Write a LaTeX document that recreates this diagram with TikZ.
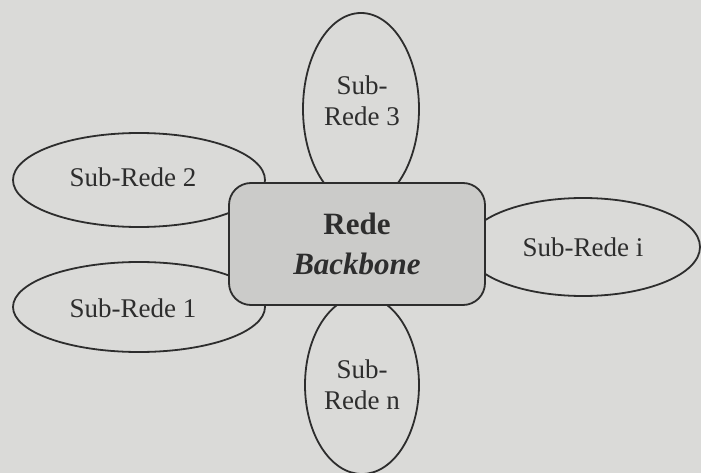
\documentclass[tikz,border=0pt]{standalone}
\usepackage{fontspec}
\setmainfont{Liberation Serif}
\usetikzlibrary{shapes.geometric}
\definecolor{bg}{RGB}{218,218,216}
\definecolor{boxfill}{RGB}{203,203,201}
\definecolor{ink}{RGB}{45,45,45}
\begin{document}
\begin{tikzpicture}[x=1pt,y=-1pt,
  net/.style={ellipse,draw=ink,line width=1.8pt,fill=bg,inner sep=0pt,text=ink,
    font=\fontsize{27}{31}\selectfont,align=center},
  lbl/.style={text=ink,font=\fontsize{27}{31}\selectfont,align=center,inner sep=0pt},
  core/.style={rectangle,rounded corners=22pt,draw=ink,line width=1.8pt,fill=boxfill,
    text=ink,font=\fontsize{31}{40}\selectfont\bfseries,align=center,inner sep=0pt}]
\fill[bg] (0,0) rectangle (701,473);
\useasboundingbox (0,0) rectangle (701,473);
\node[net,minimum width=116pt,minimum height=192pt] (s3) at (361,109) {};
\node[lbl] (t3) at (362,101) {Sub-\\Rede 3};
\node[net,minimum width=114pt,minimum height=178pt] (sn) at (362,385) {Sub-\\Rede n};
\node[net,minimum width=252pt,minimum height=94pt] (s2) at (139,180) {};
\node[lbl] (t2) at (133,177) {Sub-Rede 2};
\node[net,minimum width=252pt,minimum height=90pt] (s1) at (139,307) {};
\node[lbl] (t1) at (133,308) {Sub-Rede 1};
\node[net,minimum width=234pt,minimum height=98pt] (si) at (583,247) {Sub-Rede i};
\node[core,minimum width=256pt,minimum height=122pt] (bb) at (357,244) {Rede\\\textit{Backbone}};
\end{tikzpicture}
\end{document}
